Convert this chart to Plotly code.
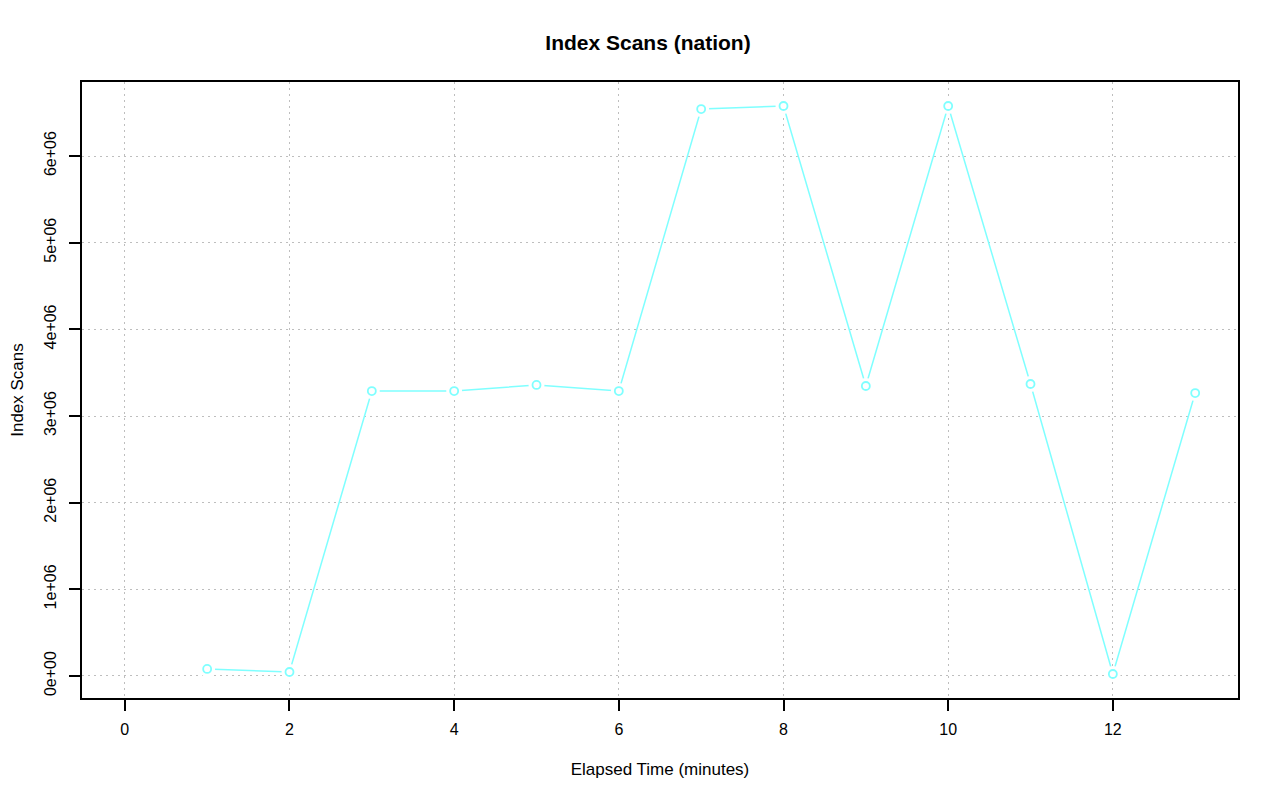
import plotly.graph_objects as go

minutes = [1, 2, 3, 4, 5, 6, 7, 8, 9, 10, 11, 12, 13]
index_scans = [81000, 46000, 3288000, 3288000, 3358000, 3288000, 6542000,
               6577000, 3346000, 6577000, 3369000, 23000, 3265000]

x_tick_vals = [0, 2, 4, 6, 8, 10, 12]
y_tick_vals = [0, 1e6, 2e6, 3e6, 4e6, 5e6, 6e6]
y_tick_text = ["0e+00", "1e+06", "2e+06", "3e+06", "4e+06", "5e+06", "6e+06"]

cyan = "#7FFFFF"
font = "Liberation Sans, Arial, Helvetica, sans-serif"

fig = go.Figure()
fig.add_trace(go.Scatter(x=minutes, y=index_scans, mode="lines",
                         line=dict(color=cyan, width=1.5), hoverinfo="skip"))
fig.add_trace(go.Scatter(x=minutes, y=index_scans, mode="markers",
                         marker=dict(symbol="circle", size=16, color="white",
                                     line=dict(width=0)), hoverinfo="skip"))
fig.add_trace(go.Scatter(x=minutes, y=index_scans, mode="markers",
                         marker=dict(symbol="circle-open", size=8, color=cyan,
                                     line=dict(width=1.8, color=cyan))))

axis_common = dict(
    showline=True, linecolor="black", linewidth=1.5, mirror=True,
    ticks="outside", ticklen=11, tickwidth=1.5, tickcolor="black",
    showgrid=True, gridcolor="#BEBEBE", gridwidth=1, griddash="2px,4px",
    zeroline=False, layer="above traces", automargin=False,
    tickfont=dict(family=font, size=16, color="black"),
)

fig.update_layout(
    width=1280, height=801,
    paper_bgcolor="white", plot_bgcolor="white",
    showlegend=False,
    margin=dict(l=74, r=50, t=74, b=111),
    title=dict(text="<b>Index Scans (nation)</b>", x=0.5, xanchor="center",
               y=1 - 35 / 801, yanchor="middle",
               font=dict(family=font, size=21, color="black")),
    xaxis=dict(range=[-0.52, 13.52], tickvals=x_tick_vals,
               ticklabelstandoff=5,
               title=dict(text="Elapsed Time (minutes)", standoff=26,
                          font=dict(family=font, size=17, color="black")),
               **axis_common),
    yaxis=dict(range=[-254000, 6854000], tickvals=y_tick_vals,
               ticktext=y_tick_text, tickangle=-90, ticklabelstandoff=7,
               title=dict(text="Index Scans", standoff=21,
                          font=dict(family=font, size=17, color="black")),
               **axis_common),
)

fig.write_html("out.html")
